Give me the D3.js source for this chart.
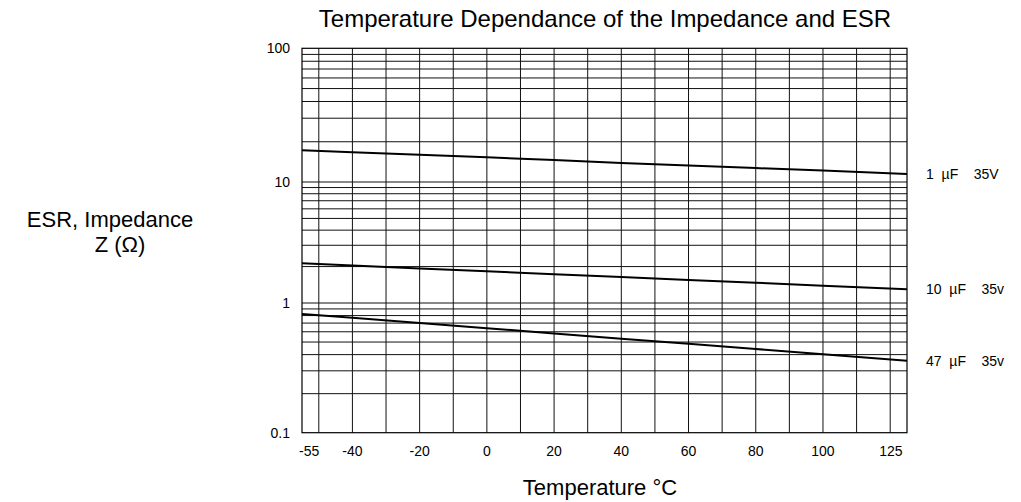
<!DOCTYPE html>
<html><head><meta charset="utf-8">
<script src="https://cdn.jsdelivr.net/npm/d3@7"></script>
<style>
html,body{margin:0;padding:0;background:#fff;}
svg{display:block;font-family:"Liberation Sans", Arial, Helvetica, sans-serif;}
</style></head><body>
<svg id="chart" width="1021" height="502"></svg>
<script>
// ---- data ----
const temperatures = [-55, -40, -20, 0, 20, 40, 60, 80, 100, 125];
const esr1uF  = [17.3, 16.7, 16.0, 15.3, 14.6, 13.9, 13.3, 12.7, 12.2, 11.5];
const esr10uF = [2.13, 2.04, 1.93, 1.83, 1.73, 1.64, 1.55, 1.47, 1.39, 1.30];
const esr47uF = [0.823, 0.768, 0.700, 0.639, 0.583, 0.531, 0.485, 0.442, 0.403, 0.359];
const seriesLabels = ["1  \u00B5F    35V", "10  \u00B5F    35v", "47  \u00B5F    35v"];
const xTickValues = [-55, -40, -20, 0, 20, 40, 60, 80, 100, 125];
const xTickLabels = ["-55", "-40", "-20", "0", "20", "40", "60", "80", "100", "125"];
const xGridValues = [-50, -40, -30, -20, -10, 0, 10, 20, 30, 40, 50, 60, 70, 80, 90, 100, 110, 120];
const yTickValues = [0.1, 1, 10, 100];
const yTickLabels = ["0.1", "1", "10", "100"];
const yDecades = [0.1, 1, 10];
const yMultipliers = [2, 3, 4, 5, 6, 7, 8, 9];
const titleText = "Temperature Dependance of the Impedance and ESR";
const xTitleText = "Temperature \u00B0C";
const yTitleLines = ["ESR, Impedance", "Z (\u03A9)"];

// ---- layout ----
const svg = d3.select("#chart");
const L = 302, R = 907, T = 48.3, B = 432.7;
const x = d3.scaleLinear().domain([-55, 125]).range([L, R]);
const y = d3.scaleLog().domain([0.1, 1, 10, 100]).range([B, 303, 182, T]);

const series = [esr1uF, esr10uF, esr47uF];

// grid
const g = svg.append("g");
const yGrid = [];
yDecades.forEach(d => yMultipliers.forEach(m => yGrid.push(d * m)));
yGrid.push(1, 10);
g.selectAll("line.hg").data(yGrid).join("line")
  .attr("x1", L).attr("x2", R)
  .attr("y1", d => y(d)).attr("y2", d => y(d))
  .attr("stroke", "#111").attr("stroke-width", 1);
g.selectAll("line.vg").data(xGridValues).join("line")
  .attr("y1", T).attr("y2", B)
  .attr("x1", d => x(d)).attr("x2", d => x(d))
  .attr("stroke", "#111").attr("stroke-width", 1);
// frame
g.append("rect").attr("x", L).attr("y", T).attr("width", R - L).attr("height", B - T)
  .attr("fill", "none").attr("stroke", "#000").attr("stroke-width", 1.2);

// curves
const line = d3.line().x((d, i) => x(temperatures[i])).y(d => y(d));
svg.selectAll("path.curve").data(series).join("path")
  .attr("d", d => line(d)).attr("fill", "none")
  .attr("stroke", "#000").attr("stroke-width", 2);

// series labels
svg.selectAll("text.sl").data(series).join("text")
  .attr("x", 926).attr("y", d => y(d[d.length - 1]))
  .attr("dy", "0.35em").attr("font-size", 14).attr("fill", "#000")
  .style("white-space", "pre").attr("xml:space", "preserve")
  .text((d, i) => seriesLabels[i]);

// x tick labels
svg.selectAll("text.xt").data(xTickValues).join("text")
  .attr("x", (d, i) => i === 0 ? x(d) - 3 : (i === xTickValues.length - 1 ? x(d) - 4.5 : x(d)))
  .attr("y", 456)
  .attr("text-anchor", (d, i) => i === 0 ? "start" : (i === xTickValues.length - 1 ? "end" : "middle"))
  .attr("font-size", 14).attr("fill", "#000")
  .text((d, i) => xTickLabels[i]);

// y tick labels
svg.selectAll("text.yt").data(yTickValues).join("text")
  .attr("x", 290).attr("y", d => y(d)).attr("dy", "0.35em")
  .attr("text-anchor", "end").attr("font-size", 14).attr("fill", "#000")
  .text((d, i) => yTickLabels[i]);

// titles
svg.append("text").attr("x", 605).attr("y", 27).attr("text-anchor", "middle")
  .attr("font-size", 24).attr("fill", "#000").text(titleText);
svg.append("text").attr("x", 600).attr("y", 495).attr("text-anchor", "middle")
  .attr("font-size", 22).attr("fill", "#000").text(xTitleText);
svg.append("text").attr("x", 110).attr("y", 227).attr("text-anchor", "middle")
  .attr("font-size", 22).attr("fill", "#000").text(yTitleLines[0]);
svg.append("text").attr("x", 120).attr("y", 252).attr("text-anchor", "middle")
  .attr("font-size", 22).attr("fill", "#000").text(yTitleLines[1]);
</script>
</body></html>
